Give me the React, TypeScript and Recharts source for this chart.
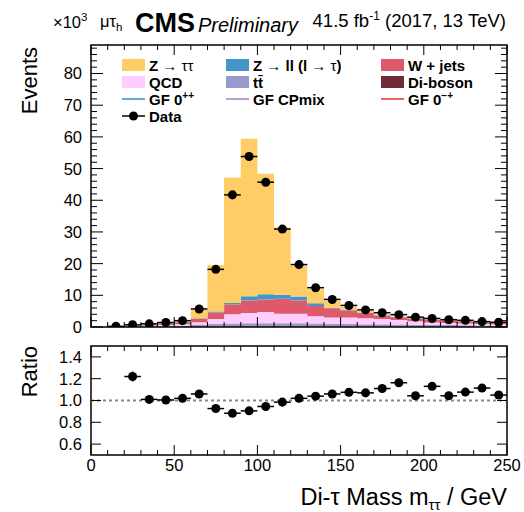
import React from "react";
import {
  Area,
  ComposedChart,
  ErrorBar,
  ReferenceArea,
  ReferenceLine,
  Scatter,
  XAxis,
  YAxis,
} from "recharts";

const FONT = '"Liberation Sans", Arial, Helvetica, sans-serif';

// 10 GeV bins of the di-tau mass
const binEdges = [
  0, 10, 20, 30, 40, 50, 60, 70, 80, 90, 100, 110, 120, 130, 140, 150, 160,
  170, 180, 190, 200, 210, 220, 230, 240, 250,
];
const binCenters = [
  5, 15, 25, 35, 45, 55, 65, 75, 85, 95, 105, 115, 125, 135, 145, 155, 165,
  175, 185, 195, 205, 215, 225, 235, 245,
];

// expected events per bin, in units of 10^3
const dibosonYield = [
  0, 0, 0.02, 0.03, 0.04, 0.05, 0.06, 0.08, 0.1, 0.1, 0.1, 0.1, 0.1, 0.1, 0.1,
  0.1, 0.1, 0.1, 0.1, 0.1, 0.1, 0.1, 0.1, 0.08, 0.08,
];
const ttbarYield = [
  0, 0.02, 0.08, 0.15, 0.2, 0.3, 0.74, 0.92, 1.0, 1.1, 1.1, 1.1, 1.1, 1.0, 0.9,
  0.9, 0.8, 0.8, 0.7, 0.6, 0.5, 0.5, 0.45, 0.4, 0.35,
];
const qcdYield = [
  0, 0.03, 0.15, 0.3, 0.4, 0.5, 0.7, 1.5, 2.9, 3.2, 3.5, 3.0, 3.0, 2.3, 2.0, 2.0,
  1.9, 1.6, 1.4, 1.1, 0.8, 0.7, 0.55, 0.45, 0.4,
];
const wjetsYield = [
  0, 0.02, 0.12, 0.25, 0.4, 0.6, 1.1, 2.1, 3.1, 4.0, 4.0, 4.7, 4.2, 3.2, 2.9, 2.2,
  1.7, 1.1, 0.9, 0.9, 0.8, 0.75, 0.7, 0.5, 0.5,
];
const zllYield = [
  0, 0, 0.02, 0.04, 0.06, 0.1, 0.2, 0.3, 0.5, 1.3, 1.6, 1.3, 1.2, 0.9, 0.2, 0.15,
  0.1, 0.1, 0.05, 0.05, 0.05, 0.05, 0.05, 0.03, 0.03,
];
const zttYield = [
  0, 0.03, 0.18, 0.23, 0.3, 0.41, 2.6, 14.7, 39.6, 49.7, 38.1, 21.2, 9.7, 4.4,
  2.1, 0.95, 0.45, 0.35, 0.2, 0.22, 0.15, 0.1, 0.1, 0.07, 0.07,
];

// observed events per bin (10^3)
const dataYield = [
  null, 0.2, 0.7, 1.0, 1.4, 2.0, 5.7, 18.2, 41.7, 53.8, 45.7, 30.9, 19.7, 12.4,
  8.7, 6.8, 5.4, 4.5, 3.9, 3.1, 2.7, 2.3, 2.1, 1.7, 1.5,
];

// data / expectation
const ratioValues = [
  null, null, 1.22, 1.01, 1.005, 1.02, 1.06, 0.926, 0.883, 0.905, 0.945, 0.985,
  1.02, 1.04, 1.06, 1.075, 1.07, 1.11, 1.163, 1.043, 1.13, 1.043, 1.077, 1.114,
  1.05,
];
const ratioErrors = [
  0, 0, 0.045, 0.03, 0.025, 0.02, 0.012, 0.007, 0.005, 0.004, 0.004, 0.005,
  0.007, 0.009, 0.011, 0.013, 0.015, 0.016, 0.018, 0.02, 0.021, 0.023, 0.024,
  0.027, 0.028,
];

const mainYTicks = Array.from({ length: 45 }, (_, i) => i * 2);
const ratioYTicks = [0.6, 0.8, 1.0, 1.2, 1.4];
const ratioYLabels = ["0.6", "0.8", "1.0", "1.2", "1.4"];

const COLORS = {
  diboson: "#6f2d35",
  ttbar: "#9999cc",
  qcd: "#ffccff",
  wjets: "#de5a6a",
  zll: "#4496c8",
  ztt: "#ffcc66",
  gf0pp: "#3f86c4",
  gfmix: "#9b7fd0",
  gf0mp: "#e8302a",
};

// layout in page pixels
const PLOT_LEFT = 91;
const PLOT_RIGHT = 507;
const MAIN_TOP = 45;
const MAIN_BOTTOM = 327;
const RATIO_OFFSET = 330;
const RATIO_TOP = 16;
const RATIO_BOTTOM = 125;
const Y_MAX = 89;

const stackRows = binEdges.map((x, i) => {
  const k = Math.min(i, binCenters.length - 1);
  return {
    x,
    diboson: dibosonYield[k],
    ttbar: ttbarYield[k],
    qcd: qcdYield[k],
    wjets: wjetsYield[k],
    zll: zllYield[k],
    ztt: zttYield[k],
  };
});

const dataPoints = binCenters
  .map((x, i) => ({ x, y: dataYield[i], xerr: 5 }))
  .filter((p) => p.y != null);

const ratioPoints = binCenters
  .map((x, i) => ({ x, y: ratioValues[i], xerr: 5, yerr: ratioErrors[i] }))
  .filter((p) => p.y != null);

// ticks point inwards on all four sides of a frame
function makeXTick(top: number, withLabels: boolean) {
  return (props: any) => {
    const { x, y, payload } = props;
    const v = payload.value as number;
    const len = v % 50 === 0 ? 10 : 5;
    return (
      <g>
        <line x1={x} x2={x} y1={y} y2={y - len} stroke="#000" />
        <line x1={x} x2={x} y1={top} y2={top + len} stroke="#000" />
        {withLabels && v % 50 === 0 && (
          <text
            x={x}
            y={y + 16}
            textAnchor="middle"
            fontSize={16.5}
            fontFamily={FONT}
            fill="#000"
          >
            {v}
          </text>
        )}
      </g>
    );
  };
}

function MainYTick(props: any) {
  const { x, y, payload } = props;
  const v = payload.value as number;
  const major = v % 10 === 0;
  const len = major ? 12 : 6;
  return (
    <g>
      <line x1={x} x2={x + len} y1={y} y2={y} stroke="#000" />
      <line x1={PLOT_RIGHT} x2={PLOT_RIGHT - len} y1={y} y2={y} stroke="#000" />
      {major && (
        <text
          x={x - 9}
          y={y}
          dy="0.36em"
          textAnchor="end"
          fontSize={16.5}
          fontFamily={FONT}
          fill="#000"
        >
          {v}
        </text>
      )}
    </g>
  );
}

function RatioYTick(props: any) {
  const { x, y, index } = props;
  return (
    <g>
      <line x1={x} x2={x + 10} y1={y} y2={y} stroke="#000" />
      <line x1={PLOT_RIGHT} x2={PLOT_RIGHT - 10} y1={y} y2={y} stroke="#000" />
      <text
        x={x - 9}
        y={y}
        dy="0.36em"
        textAnchor="end"
        fontSize={16.5}
        fontFamily={FONT}
        fill="#000"
      >
        {ratioYLabels[index]}
      </text>
    </g>
  );
}

const stackOrder: { key: keyof typeof COLORS }[] = [
  { key: "diboson" },
  { key: "ttbar" },
  { key: "qcd" },
  { key: "wjets" },
  { key: "zll" },
  { key: "ztt" },
];

function LegendBox({ x, y, color, children }: any) {
  return (
    <g>
      <rect x={x} y={y - 6} width={23} height={12} fill={color} />
      <text x={x + 27} y={y + 5.5} fontSize={15} fontWeight="bold">
        {children}
      </text>
    </g>
  );
}

function LegendLine({ x, y, color, children }: any) {
  return (
    <g>
      <line x1={x} x2={x + 23} y1={y} y2={y} stroke={color} strokeWidth={1.5} />
      <text x={x + 27} y={y + 5.5} fontSize={15} fontWeight="bold">
        {children}
      </text>
    </g>
  );
}

function Labels() {
  const c1 = 122;
  const c2 = 226;
  const c3 = 381;
  const r = [65, 82, 99, 116];
  return (
    <svg
      width={524}
      height={512}
      style={{ position: "absolute", left: 0, top: 0, pointerEvents: "none" }}
      fontFamily={FONT}
      fill="#000"
    >
      <text x={53} y={28} fontSize={16.5}>
        ×10<tspan dy={-7} fontSize={11.5}>3</tspan>
      </text>
      <text x={100} y={27} fontSize={16.5}>
        μτ<tspan dy={4} fontSize={11.5}>h</tspan>
      </text>
      <text x={135} y={32} fontSize={27} fontWeight="bold">
        CMS
      </text>
      <text x={198} y={32} fontSize={20} fontStyle="italic">
        Preliminary
      </text>
      <text x={506} y={26.5} fontSize={18.5} textAnchor="end">
        41.5 fb<tspan dy={-7} fontSize={12}>-1</tspan>
        <tspan dy={7}> (2017, 13 TeV)</tspan>
      </text>

      <text transform="translate(37,47) rotate(-90)" textAnchor="end" fontSize={22}>
        Events
      </text>
      <text transform="translate(37,346) rotate(-90)" textAnchor="end" fontSize={22}>
        Ratio
      </text>
      <text x={507} y={505} textAnchor="end" fontSize={23.5}>
        Di-τ Mass m<tspan dy={5} fontSize={15}>ττ</tspan>
        <tspan dy={-5}> / GeV</tspan>
      </text>

      <LegendBox x={c1} y={r[0]} color={COLORS.ztt}>
        Z <tspan fontWeight="normal">→ ττ</tspan>
      </LegendBox>
      <LegendBox x={c2} y={r[0]} color={COLORS.zll}>
        Z <tspan fontWeight="normal">→</tspan> ll (l <tspan fontWeight="normal">→ τ</tspan>)
      </LegendBox>
      <LegendBox x={c3} y={r[0]} color={COLORS.wjets}>
        W + jets
      </LegendBox>
      <LegendBox x={c1} y={r[1]} color={COLORS.qcd}>
        QCD
      </LegendBox>
      <LegendBox x={c2} y={r[1]} color={COLORS.ttbar}>
        tt̄
      </LegendBox>
      <LegendBox x={c3} y={r[1]} color={COLORS.diboson}>
        Di-boson
      </LegendBox>
      <LegendLine x={c1} y={r[2]} color={COLORS.gf0pp}>
        GF 0<tspan dy={-6} fontSize={10}>++</tspan>
      </LegendLine>
      <LegendLine x={c2} y={r[2]} color={COLORS.gfmix}>
        GF CPmix
      </LegendLine>
      <LegendLine x={c3} y={r[2]} color={COLORS.gf0mp}>
        GF 0<tspan dy={-6} fontSize={10}>−+</tspan>
      </LegendLine>
      <LegendLine x={c1} y={r[3]} color="#000">
        Data
      </LegendLine>
      <circle cx={c1 + 11.5} cy={r[3]} r={4.5} fill="#000" />
    </svg>
  );
}

export default function App() {
  return (
    <div
      style={{
        position: "absolute",
        left: 0,
        top: 0,
        width: 524,
        height: 512,
        background: "#fff",
        fontFamily: FONT,
      }}
    >
      <div style={{ position: "absolute", left: 0, top: 0 }}>
        <ComposedChart
          width={524}
          height={MAIN_BOTTOM + 13}
          data={stackRows}
          margin={{ top: MAIN_TOP, right: 524 - PLOT_RIGHT, left: 0, bottom: 0 }}
        >
          {stackOrder.map(({ key }) => (
            <Area
              key={key}
              dataKey={key}
              stackId="mc"
              type="stepAfter"
              fill={COLORS[key]}
              fillOpacity={1}
              stroke="none"
              isAnimationActive={false}
            />
          ))}
          <Scatter
            data={dataPoints}
            dataKey="y"
            fill="#000"
            isAnimationActive={false}
          >
            <ErrorBar
              dataKey="xerr"
              direction="x"
              width={0}
              stroke="#000"
              strokeWidth={1.5}
              isAnimationActive={false}
            />
          </Scatter>
          <ReferenceArea
            x1={0}
            x2={250}
            y1={0}
            y2={Y_MAX}
            fill="none"
            stroke="#000"
            strokeWidth={1.5}
          />
          <XAxis
            dataKey="x"
            type="number"
            domain={[0, 250]}
            ticks={binEdges}
            interval={0}
            allowDataOverflow
            height={13}
            tickSize={0}
            tickMargin={0}
            axisLine={false}
            tick={makeXTick(MAIN_TOP, false)}
          />
          <YAxis
            type="number"
            domain={[0, Y_MAX]}
            ticks={mainYTicks}
            interval={0}
            allowDataOverflow
            width={PLOT_LEFT}
            tickSize={0}
            tickMargin={0}
            axisLine={false}
            tick={MainYTick}
          />
        </ComposedChart>
      </div>
      <div style={{ position: "absolute", left: 0, top: RATIO_OFFSET }}>
        <ComposedChart
          width={524}
          height={182}
          margin={{ top: RATIO_TOP, right: 524 - PLOT_RIGHT, left: 0, bottom: 182 - RATIO_BOTTOM - 30 }}
        >
          <ReferenceLine
            y={1}
            stroke="#888"
            strokeWidth={2}
            strokeDasharray="3 3"
          />
          <Scatter
            data={ratioPoints}
            dataKey="y"
            fill="#000"
            isAnimationActive={false}
          >
            <ErrorBar
              dataKey="xerr"
              direction="x"
              width={0}
              stroke="#000"
              strokeWidth={1.5}
              isAnimationActive={false}
            />
            <ErrorBar
              dataKey="yerr"
              direction="y"
              width={0}
              stroke="#000"
              strokeWidth={1.5}
              isAnimationActive={false}
            />
          </Scatter>
          <ReferenceArea
            x1={0}
            x2={250}
            y1={0.5}
            y2={1.5}
            fill="none"
            stroke="#000"
            strokeWidth={1.5}
          />
          <XAxis
            dataKey="x"
            type="number"
            domain={[0, 250]}
            ticks={binEdges}
            interval={0}
            allowDataOverflow
            height={30}
            tickSize={0}
            tickMargin={0}
            axisLine={false}
            tick={makeXTick(RATIO_TOP, true)}
          />
          <YAxis
            type="number"
            domain={[0.5, 1.5]}
            ticks={ratioYTicks}
            interval={0}
            allowDataOverflow
            width={PLOT_LEFT}
            tickSize={0}
            tickMargin={0}
            axisLine={false}
            tick={RatioYTick}
          />
        </ComposedChart>
      </div>
      <Labels />
    </div>
  );
}
